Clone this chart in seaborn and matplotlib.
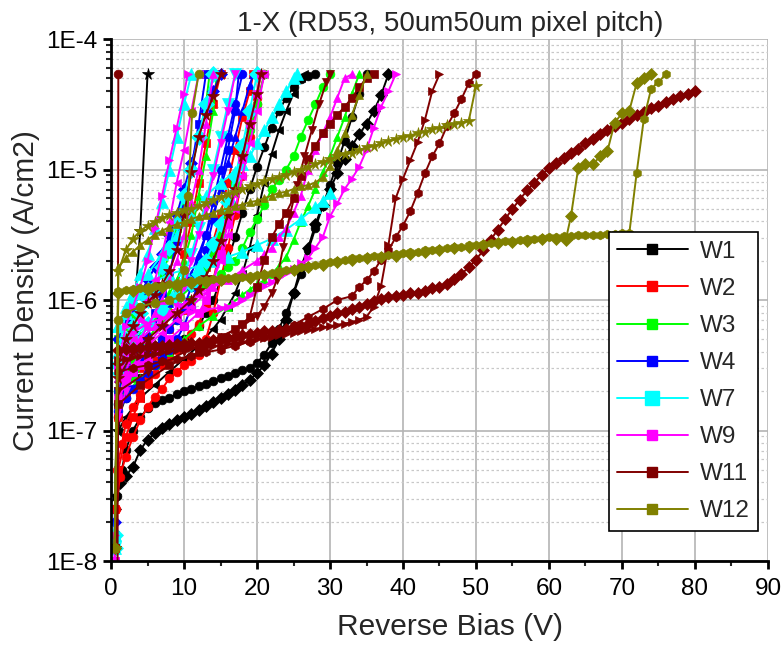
import numpy as np
import seaborn as sns
import matplotlib
matplotlib.use('Agg')
import matplotlib.pyplot as plt
from matplotlib.lines import Line2D
from matplotlib.ticker import LogLocator, MultipleLocator, FixedLocator, NullFormatter

# I-V curves: (reverse bias V, log10 current density A/cm2)
# W1
w1_a = [(0.5, -7.5), (1, -7.0), (2, -6.6), (3, -6.25), (4, -5.47), (5, -4.27)]
w1_b = [(0.6, -7.6), (1.2, -7.4), (2, -7.35), (3, -7.28), (4, -7.15), (5, -7.07), (6, -7.02), (7, -6.98),
        (8, -6.95), (9, -6.92), (10, -6.9), (11, -6.87), (12, -6.84), (13, -6.81), (14, -6.78), (15, -6.75),
        (16, -6.72), (17, -6.69), (18, -6.65), (19, -6.61), (20, -6.56), (21, -6.5), (22, -6.41), (23, -6.3),
        (24, -6.15), (25, -5.95), (26, -5.75), (27, -5.6), (28, -5.42), (29, -5.27), (30, -5.15), (31, -5.03),
        (32, -4.92), (33, -4.82), (34, -4.73), (35, -4.65), (36, -4.55), (37, -4.43), (38, -4.27)]
w1_c = [(0.8, -7.5), (1.5, -7.3), (2, -7.15), (3, -7.0), (4, -6.9), (5, -6.83), (6, -6.79), (7, -6.77),
        (8, -6.75), (9, -6.72), (10, -6.7), (11, -6.68), (12, -6.66), (13, -6.64), (14, -6.62), (15, -6.6),
        (16, -6.58), (17, -6.56), (18, -6.54), (19, -6.52), (20, -6.48), (21, -6.42), (22, -6.33), (23, -6.22),
        (24, -6.1), (25, -5.95), (26, -5.8), (27, -5.62), (28, -5.45), (29, -5.28), (30, -5.12), (31, -4.95),
        (32, -4.78), (33, -4.6), (34, -4.42), (35, -4.27)]
w1_d = [(1, -6.9), (2, -6.75), (4, -6.6), (6, -6.5), (8, -6.4), (10, -6.3), (12, -6.2), (13, -6.1), (14, -6.0),
        (15, -5.85), (16, -5.7), (17, -5.52), (18, -5.33), (19, -5.15), (20, -4.98), (21, -4.83), (22, -4.68),
        (23, -4.55), (24, -4.45), (25, -4.37), (26, -4.31), (27, -4.28), (28, -4.27)]
w1_e = [(1, -7.0), (2, -6.9), (4, -6.75), (6, -6.65), (8, -6.55), (10, -6.45), (12, -6.35), (14, -6.22),
        (15, -6.15), (16, -6.05), (17, -5.95), (18, -5.8), (19, -5.6), (20, -5.35), (21, -5.1), (22, -4.88),
        (23, -4.7), (24, -4.55), (25, -4.42), (26, -4.3), (26.5, -4.27)]

# W2
w2_a = [(0.5, -7.6), (1, -7.3), (2, -7.05), (3, -6.9), (4, -6.75), (5, -6.6), (6, -6.45), (7, -6.3), (8, -6.1),
        (9, -5.9), (10, -5.65), (11, -5.4), (12, -5.1), (13, -4.8), (14, -4.5), (15, -4.27)]
w2_b = [(0.7, -7.6), (1.2, -7.36), (2, -7.2), (3, -7.05), (4, -6.92), (5, -6.82), (6, -6.74), (7, -6.68),
        (8, -6.6), (9, -6.55), (10, -6.5), (11, -6.47), (12, -6.42), (13, -6.3), (14, -6.1), (15, -5.85),
        (16, -5.6), (17, -5.35), (18, -5.05), (19, -4.75), (20, -4.5), (21, -4.27)]
w2_c = [(0.5, -7.8), (1, -6.9), (2, -6.72), (3, -6.6), (4, -6.52), (5, -6.45), (6, -6.38), (7, -6.3), (8, -6.22),
        (9, -6.15), (10, -6.08), (11, -6.0), (12, -5.9), (13, -5.75), (14, -5.55), (15, -5.35), (16, -5.1),
        (17, -4.85), (18, -4.6), (19, -4.4), (19.5, -4.27)]
w2_d = [(0.8, -7.3), (1.5, -7.1), (2, -6.95), (3, -6.82), (4, -6.72), (5, -6.64), (6, -6.57), (7, -6.5),
        (8, -6.44), (9, -6.38), (10, -6.32), (11, -6.26), (12, -6.18), (13, -6.05), (14, -5.85), (15, -5.6),
        (16, -5.4), (17, -5.15), (18, -4.9), (19, -4.65), (20, -4.45), (20.5, -4.27)]

# W3
w3_a = [(0.5, -7.9), (1, -6.6), (2, -6.45), (3, -6.35), (4, -6.27), (5, -6.2), (6, -6.12), (7, -6.05), (8, -5.95),
        (9, -5.85), (10, -5.7), (11, -5.5), (12, -5.2), (13, -4.9), (14, -4.55), (14.5, -4.27)]
w3_b = [(0.5, -7.9), (1, -6.7), (2, -6.55), (3, -6.45), (5, -6.3), (7, -6.15), (9, -6.0), (11, -5.9), (12, -5.82),
        (13, -5.75), (14, -5.65), (15, -5.5), (16, -5.3), (17, -5.1), (18, -4.9), (19, -4.7), (20, -4.5), (21, -4.27)]
w3_c = [(0.6, -7.8), (1, -6.8), (2, -6.7), (3, -6.6), (5, -6.45), (7, -6.3), (9, -6.15), (11, -6.0), (13, -5.88),
        (15, -5.8), (16, -5.75), (17, -5.7), (18, -5.6), (19, -5.48), (20, -5.38), (21, -5.27), (22, -5.15),
        (23, -5.08), (24, -5.0), (25, -4.9), (26, -4.75), (27, -4.62), (28, -4.5), (29, -4.37), (30, -4.27)]
w3_d = [(0.6, -7.8), (1, -6.8), (2, -6.72), (4, -6.6), (6, -6.5), (8, -6.4), (10, -6.3), (12, -6.2), (14, -6.12),
        (16, -6.05), (18, -5.96), (19, -5.92), (20, -5.88), (21, -5.85), (22, -5.8), (23, -5.74), (24, -5.67),
        (25, -5.54), (26, -5.4), (27, -5.28), (28, -5.15), (29, -5.02), (30, -4.9), (31, -4.75), (32, -4.6),
        (33, -4.42), (34, -4.27)]
w3_e = [(0.5, -7.8), (1, -6.3), (2, -6.2), (3, -6.12), (4, -6.05), (5, -5.98), (6, -5.9), (7, -5.8), (8, -5.65),
        (9, -5.45), (10, -5.25), (11, -5.0), (12, -4.75), (13, -4.5), (13.5, -4.27)]

# W4
w4_a = [(0.5, -7.8), (1, -6.7), (2, -6.5), (3, -6.4), (4, -6.3), (5, -6.2), (6, -6.1), (7, -5.95), (8, -5.8),
        (9, -5.55), (10, -5.3), (11, -5.0), (12, -4.65), (13, -4.27)]
w4_b = [(0.5, -8.0), (1, -6.8), (2, -6.65), (3, -6.55), (4, -6.47), (5, -6.4), (6, -6.35), (7, -6.3), (8, -6.22),
        (9, -6.15), (10, -6.05), (11, -5.9), (12, -5.7), (13, -5.5), (14, -5.25), (15, -5.0), (16, -4.75),
        (17, -4.5), (18, -4.27)]
w4_c = [(0.5, -7.9), (1, -6.6), (2, -6.5), (3, -6.4), (4, -6.32), (5, -6.25), (6, -6.18), (7, -6.1), (8, -6.02),
        (9, -5.95), (10, -5.87), (11, -5.8), (12, -5.65), (13, -5.5), (14, -5.35), (15, -5.15), (16, -4.95),
        (17, -4.75), (18, -4.55), (19, -4.35), (19.5, -4.27)]
w4_d = [(0.5, -7.7), (1, -6.3), (2, -6.15), (3, -6.05), (4, -5.95), (5, -5.85), (6, -5.75), (7, -5.65), (8, -5.5),
        (9, -5.35), (10, -5.15), (11, -4.95), (12, -4.75), (13, -4.55), (14, -4.4), (15, -4.27)]
w4_e = [(0.6, -7.9), (1, -6.85), (2, -6.75), (3, -6.68), (4, -6.62), (5, -6.56), (6, -6.5), (7, -6.44), (8, -6.38),
        (9, -6.3), (10, -6.2), (11, -6.05), (12, -5.85), (13, -5.62), (14, -5.38), (15, -5.12), (16, -4.85),
        (17, -4.55), (17.5, -4.27)]

# W7
w7_a = [(0.5, -7.9), (1, -6.4), (2, -6.1), (3, -5.95), (4, -5.8), (5, -5.65), (6, -5.45), (7, -5.25), (8, -5.0),
        (9, -4.75), (10, -4.5), (11, -4.27)]
w7_b = [(0.5, -7.8), (1, -6.5), (2, -6.3), (3, -6.2), (4, -6.1), (5, -6.0), (6, -5.9), (7, -5.75), (8, -5.6),
        (9, -5.4), (10, -5.2), (11, -5.0), (12, -4.75), (13, -4.5), (14, -4.27)]
w7_c = [(0.5, -7.9), (1, -6.6), (2, -6.45), (3, -6.35), (5, -6.2), (7, -6.05), (9, -5.9), (10, -5.8), (11, -5.65),
        (12, -5.45), (13, -5.25), (14, -5.0), (15, -4.75), (16, -4.5), (17, -4.27)]
w7_d = [(0.5, -7.8), (1, -6.2), (2, -6.05), (3, -5.95), (5, -5.8), (7, -5.65), (9, -5.5), (11, -5.35), (13, -5.2),
        (15, -5.1), (17, -5.02), (18, -4.96), (19, -4.9), (20, -4.8), (21, -4.7), (22, -4.6), (23, -4.5),
        (24, -4.4), (25, -4.3), (25.5, -4.27)]
w7_e = [(0.5, -7.8), (1, -6.2), (2, -6.1), (3, -6.0), (4, -5.95), (5, -5.9), (6, -5.86), (8, -5.8), (10, -5.77),
        (12, -5.74), (14, -5.7), (16, -5.67), (18, -5.63), (20, -5.58), (22, -5.53), (24, -5.46), (26, -5.38),
        (28, -5.29), (29, -5.24), (30, -5.18)]
w7_f = [(0.5, -7.9), (1, -6.5), (3, -6.3), (5, -6.18), (7, -6.08), (9, -5.98), (11, -5.88), (12, -5.8), (13, -5.7),
        (14, -5.57), (15, -5.42), (16, -5.25), (17, -5.05), (18, -4.82), (19, -4.55), (20, -4.27)]

# W9
w9_a = [(0.5, -7.8), (1, -6.5), (2, -6.2), (3, -6.05), (4, -5.9), (5, -5.7), (6, -5.45), (7, -5.2), (8, -4.93),
        (9, -4.68), (10, -4.42), (10.5, -4.27)]
w9_b = [(0.5, -7.9), (1, -6.6), (2, -6.4), (3, -6.3), (4, -6.15), (5, -6.0), (6, -5.85), (7, -5.65), (8, -5.4),
        (9, -5.1), (10, -4.85), (11, -4.55), (12, -4.27)]
w9_c = [(0.5, -8.0), (1, -6.8), (2, -6.55), (3, -6.4), (4, -6.3), (5, -6.2), (6, -6.1), (7, -6.0), (8, -5.85),
        (9, -5.7), (10, -5.5), (11, -5.25), (12, -5.0), (13, -4.65), (14, -4.27)]
w9_d = [(0.5, -8.0), (1, -6.9), (2, -6.7), (3, -6.55), (5, -6.35), (7, -6.2), (9, -6.05), (10, -5.9), (11, -5.7),
        (12, -5.5), (13, -5.3), (14, -5.05), (15, -4.8), (16, -4.55), (17, -4.27)]
w9_e = [(0.5, -8.0), (1, -6.8), (2, -6.6), (3, -6.5), (5, -6.35), (7, -6.25), (9, -6.15), (11, -6.05), (13, -5.95),
        (14, -5.85), (15, -5.7), (16, -5.5), (17, -5.3), (18, -5.05), (19, -4.8), (20, -4.55), (21, -4.27)]
w9_f = [(0.6, -7.9), (1, -6.5), (2, -6.35), (3, -6.25), (5, -6.18), (7, -6.14), (9, -6.11), (11, -6.09), (13, -6.07),
        (15, -6.06), (16, -6.05), (17, -6.03), (18, -6.0), (19, -5.96), (20, -5.92), (21, -5.89), (22, -5.86),
        (23, -5.82), (24, -5.79), (25, -5.76), (26, -5.72), (27, -5.68), (28, -5.6), (29, -5.52), (30, -5.36),
        (31, -5.26), (32, -5.15), (33, -5.07), (34, -4.98), (35, -4.85), (36, -4.68), (37, -4.52), (38, -4.4),
        (39, -4.27)]
w9_g = [(0.6, -7.9), (1, -6.6), (2, -6.45), (4, -6.3), (6, -6.2), (8, -6.1), (10, -6.03), (12, -5.95), (14, -5.9),
        (16, -5.85), (18, -5.77), (20, -5.7), (21, -5.65), (22, -5.6), (23, -5.52), (24, -5.45), (25, -5.33),
        (26, -5.2), (27, -5.0), (28, -4.85), (29, -4.72), (30, -4.6), (31, -4.45), (32, -4.3), (33, -4.27)]
w9_h = [(0.5, -7.9), (1, -6.75), (2, -6.62), (3, -6.55), (4, -6.5), (5, -6.45), (6, -6.4), (8, -6.3), (10, -6.2),
        (12, -6.1), (13, -6.0), (14, -5.85), (15, -5.65), (16, -5.42), (17, -5.18), (18, -4.92), (19, -4.65),
        (20, -4.42), (20.5, -4.27)]

# W11
w11_a = [(0.9, -8.05), (1.0, -4.27)]
w11_b = [(0.5, -7.9), (1, -6.5), (2, -6.3), (3, -6.2), (4, -6.1), (5, -6.02), (6, -5.96), (7, -5.88), (8, -5.78),
         (9, -5.62), (10, -5.35), (11, -5.02), (12, -4.75), (13, -4.58), (14, -4.44), (15, -4.27)]
w11_c = [(0.6, -7.9), (1, -6.6), (3, -6.4), (5, -6.3), (7, -6.2), (9, -6.1), (11, -6.0), (12, -5.92), (13, -5.82),
         (14, -5.7), (15, -5.55), (16, -5.35), (17, -5.15), (18, -4.9), (19, -4.65), (20, -4.42), (20.5, -4.27)]
w11_d = [(0.6, -7.9), (1, -6.8), (4, -6.65), (8, -6.5), (12, -6.4), (15, -6.3), (17, -6.22), (18, -6.18), (19, -6.13),
         (20, -5.9), (21, -5.69), (22, -5.52), (23, -5.42), (24, -5.33), (25, -5.22), (26, -5.05), (27, -4.92),
         (28, -4.82), (29, -4.72), (30, -4.65), (31, -4.58), (32, -4.52), (33, -4.45), (34, -4.37), (35, -4.3),
         (36, -4.27)]
w11_e = [(0.6, -7.9), (1, -6.7), (5, -6.55), (10, -6.4), (15, -6.28), (18, -6.2), (20, -6.12), (21, -6.05),
         (22, -5.95), (22.7, -5.85), (23.6, -5.59), (24.5, -5.35), (25.5, -5.12), (26.5, -4.9), (27.5, -4.7),
         (28.5, -4.5), (29.5, -4.33), (30, -4.27)]
w11_f = [(0.5, -7.9), (1, -6.38), (2, -6.375), (3, -6.37), (4, -6.365), (5, -6.36), (6, -6.355), (7, -6.35),
         (8, -6.345), (9, -6.34), (10, -6.335), (11, -6.33), (12, -6.33), (13, -6.32), (14, -6.31), (15, -6.3),
         (16, -6.29), (17, -6.28), (18, -6.27), (19, -6.26), (20, -6.25), (21, -6.24), (22, -6.235), (23, -6.23),
         (24, -6.22), (25, -6.21), (26, -6.2), (27, -6.18), (28, -6.16), (29, -6.14), (30, -6.12), (31, -6.1),
         (32, -6.09), (33, -6.07), (34, -6.05), (35, -6.03), (36, -6.01), (37, -5.99), (38, -5.98), (39, -5.97),
         (40, -5.96), (41, -5.95), (42, -5.945), (43, -5.93), (44, -5.91), (45, -5.9), (46, -5.88), (47, -5.84),
         (48, -5.8), (49, -5.75), (50, -5.69), (51, -5.62), (52, -5.54), (53, -5.46), (54, -5.38), (55, -5.3),
         (56, -5.23), (57, -5.16), (58, -5.1), (59, -5.04), (60, -4.99), (61, -4.95), (62, -4.91), (63, -4.87),
         (64, -4.84), (65, -4.8), (66, -4.77), (67, -4.73), (68, -4.7), (69, -4.67), (70, -4.64), (71, -4.61),
         (72, -4.58), (73, -4.56), (74, -4.53), (75, -4.51), (76, -4.48), (77, -4.46), (78, -4.44), (79, -4.42),
         (80, -4.40)]
w11_g = [(0.5, -7.9), (1, -6.46), (2, -6.45), (3, -6.44), (4, -6.43), (5, -6.42), (6, -6.41), (7, -6.4), (8, -6.39),
         (9, -6.38), (10, -6.37), (11, -6.37), (12, -6.36), (13, -6.36), (14, -6.35), (15, -6.35), (16, -6.34),
         (17, -6.33), (18, -6.32), (19, -6.31), (20, -6.3), (21, -6.29), (22, -6.28), (23, -6.27), (24, -6.26),
         (25, -6.25), (26, -6.24), (27, -6.23), (28, -6.22), (29, -6.21), (30, -6.2), (31, -6.19), (32, -6.18),
         (33, -6.17), (34, -6.15), (35, -6.13), (36, -6.05), (37, -5.89), (38, -5.58), (39, -5.22), (40, -5.07),
         (41, -4.93), (42, -4.79), (43, -4.62), (44, -4.4), (45, -4.27)]
w11_h = [(0.5, -7.9), (1, -6.55), (3, -6.52), (5, -6.5), (7, -6.47), (9, -6.45), (11, -6.43), (13, -6.4),
         (15, -6.38), (17, -6.35), (19, -6.32), (21, -6.28), (23, -6.24), (25, -6.19), (27, -6.13), (29, -6.07),
         (31, -6.0), (33, -5.97), (34, -5.9), (35, -5.85), (36, -5.78), (37, -5.69), (38, -5.62), (39, -5.52),
         (40, -5.43), (41, -5.32), (42, -5.18), (43, -5.03), (44, -4.9), (45, -4.8), (46, -4.67), (47, -4.57),
         (48, -4.46), (49, -4.34), (50, -4.27)]

# W12
w12_a = [(0.5, -7.9), (1, -6.15), (2, -6.1), (4, -6.05), (6, -6.02), (8, -6.0), (9.5, -5.98), (10, -5.77),
         (10.6, -5.2), (11.1, -4.57), (12, -4.27)]
w12_b = [(0.5, -7.9), (1, -5.78), (2, -5.62), (3, -5.53), (4, -5.47), (5, -5.43), (6, -5.4), (7, -5.37), (8, -5.35),
         (9, -5.33), (10, -5.31), (11, -5.3), (12, -5.28), (13, -5.26), (14, -5.23), (15, -5.21), (16, -5.19),
         (17, -5.17), (18, -5.15), (19, -5.13), (20, -5.11), (21, -5.09), (22, -5.07), (23, -5.06), (24, -5.04),
         (25, -5.02), (26, -5.0), (27, -4.98), (28, -4.96), (29, -4.94), (30, -4.92), (31, -4.9), (32, -4.88),
         (33, -4.87), (34, -4.85), (35, -4.83), (36, -4.82), (37, -4.8), (38, -4.78), (39, -4.77), (40, -4.75),
         (41, -4.74), (42, -4.72), (43, -4.71), (44, -4.69), (45, -4.68), (46, -4.66), (47, -4.65), (48, -4.64),
         (49, -4.63), (50, -4.36)]
w12_c = [(0.5, -7.9), (1, -5.75), (2, -5.68), (3, -5.63), (4, -5.58), (5, -5.54), (6, -5.5), (7, -5.47), (8, -5.44),
         (9, -5.42), (10, -5.4), (11, -5.38), (12, -5.36), (13, -5.35), (14, -5.33), (15, -5.31), (16, -5.3),
         (17, -5.28), (18, -5.27), (19, -5.25), (20, -5.24), (21, -5.22), (22, -5.2), (23, -5.18), (24, -5.17),
         (25, -5.15), (26, -5.13), (27, -5.12), (28, -5.1), (29, -5.06), (30, -4.97), (31, -4.85), (32, -4.72),
         (33, -4.58), (34, -4.43), (35, -4.27)]
w12_d = [(0.5, -7.9), (1, -5.93), (2, -5.92), (3, -5.915), (4, -5.91), (5, -5.9), (6, -5.895), (7, -5.89), (8, -5.88),
         (9, -5.87), (10, -5.86), (11, -5.855), (12, -5.85), (13, -5.845), (14, -5.84), (15, -5.835), (16, -5.83),
         (17, -5.825), (18, -5.82), (19, -5.815), (20, -5.81), (21, -5.8), (22, -5.79), (23, -5.78), (24, -5.77),
         (25, -5.76), (26, -5.75), (27, -5.74), (28, -5.73), (29, -5.72), (30, -5.71), (31, -5.7), (32, -5.69),
         (33, -5.68), (34, -5.675), (35, -5.67), (36, -5.665), (37, -5.66), (38, -5.655), (39, -5.65), (40, -5.64),
         (41, -5.635), (42, -5.63), (43, -5.62), (44, -5.615), (45, -5.61), (46, -5.6), (47, -5.595), (48, -5.59),
         (49, -5.58), (50, -5.575), (51, -5.57), (52, -5.56), (53, -5.555), (54, -5.55), (55, -5.545), (56, -5.54),
         (57, -5.535), (58, -5.53), (59, -5.525), (60, -5.52), (61, -5.515), (62, -5.51), (63, -5.51), (64, -5.505),
         (65, -5.505), (66, -5.5), (67, -5.5), (68, -5.495), (69, -5.495), (70, -5.49), (71, -5.49), (72, -5.03),
         (73, -4.61), (74, -4.38), (75, -4.33), (76, -4.27)]
w12_e = [(0.5, -7.9), (1, -5.95), (3, -5.93), (5, -5.92), (7, -5.9), (9, -5.89), (11, -5.87), (13, -5.86),
         (15, -5.85), (17, -5.84), (19, -5.83), (21, -5.81), (23, -5.79), (25, -5.77), (27, -5.75), (29, -5.73),
         (31, -5.71), (33, -5.69), (35, -5.68), (37, -5.67), (39, -5.66), (41, -5.645), (43, -5.63), (45, -5.62),
         (47, -5.605), (49, -5.59), (51, -5.58), (53, -5.565), (55, -5.555), (57, -5.545), (59, -5.535),
         (61, -5.53), (62.3, -5.54), (63, -5.36), (64, -4.99), (65, -4.96), (66, -4.96), (67, -4.9), (68, -4.86),
         (69, -4.64), (70, -4.57), (71, -4.55), (72, -4.34), (73, -4.3), (74, -4.27)]

wafers = ['W1', 'W2', 'W3', 'W4', 'W7', 'W9', 'W11', 'W12']
colors = ['#000000', '#ff0000', '#00ff00', '#0000ff', '#00ffff', '#ff00ff', '#800000', '#808000']
curves = [
    [w1_a, w1_b, w1_c, w1_d, w1_e],
    [w2_a, w2_b, w2_c, w2_d],
    [w3_a, w3_b, w3_c, w3_d, w3_e],
    [w4_a, w4_b, w4_c, w4_d, w4_e],
    [w7_a, w7_b, w7_c, w7_d, w7_e, w7_f],
    [w9_a, w9_b, w9_c, w9_d, w9_e, w9_f, w9_g, w9_h],
    [w11_a, w11_b, w11_c, w11_d, w11_e, w11_f, w11_g, w11_h],
    [w12_a, w12_b, w12_c, w12_d, w12_e],
]
markers = [
    ['*', 'D', 'o', 'o', '<'],
    ['s', 'o', 's', 'o'],
    ['^', 'o', 'o', '^', 's'],
    ['s', 'o', '^', 'D', 'o'],
    ['^', 'D', 'v', '^', '^', 'D'],
    ['>', '<', '^', 'v', '<', '>', '^', 's'],
    ['o', '*', '*', 's', 'v', 'D', '>', 'h'],
    ['o', '*', '^', 'h', 'D'],
]

sns.set_style('ticks')
plt.rcParams['font.family'] = ['Liberation Sans', 'DejaVu Sans']

fig = plt.figure(figsize=(7.83, 6.47), dpi=100)
ax = fig.add_axes([0.1418, 0.1329, 0.839, 0.8068])

for w, col, group, mks in zip(wafers, colors, curves, markers):
    for pts, mk in zip(group, mks):
        v = [p[0] for p in pts]
        j = [10 ** p[1] for p in pts]
        ms = 8 if w == 'W7' else (8.5 if mk == '*' else 6.3)
        sns.lineplot(x=v, y=j, ax=ax, color=col, marker=mk, markersize=ms,
                     markeredgecolor=col, markeredgewidth=0.5, linewidth=1.4,
                     sort=False, estimator=None, legend=False)

ax.set_yscale('log')
ax.set_xlim(0, 90)
ax.set_ylim(1e-8, 1e-4)
ax.xaxis.set_major_locator(MultipleLocator(10))
ax.xaxis.set_minor_locator(MultipleLocator(5))
ax.yaxis.set_major_locator(FixedLocator([1e-8, 1e-7, 1e-6, 1e-5, 1e-4]))
ax.yaxis.set_minor_locator(LogLocator(base=10, subs=np.arange(2, 10), numticks=20))
ax.yaxis.set_minor_formatter(NullFormatter())
ax.set_yticklabels(['1E-8', '1E-7', '1E-6', '1E-5', '1E-4'])

ax.grid(True, which='major', color='#b4b4b4', linewidth=1.2)
ax.grid(True, which='minor', axis='y', color='#c8c8c8', linewidth=0.9, linestyle=(0, (2, 2)))
ax.xaxis.grid(False, which='minor')
ax.set_axisbelow(True)

for s in ['top', 'right']:
    ax.spines[s].set_visible(False)
for s in ['left', 'bottom']:
    ax.spines[s].set_linewidth(2)
    ax.spines[s].set_color('black')
ax.tick_params(which='major', direction='out', length=6, width=2, labelsize=17.5, colors='black', pad=4)
ax.tick_params(which='minor', direction='out', length=3.5, width=1.5)
ax.tick_params(axis='x', which='major', pad=6)

ax.set_xlabel('Reverse Bias (V)', fontsize=21.5, labelpad=10)
ax.set_ylabel('Current Density (A/cm2)', fontsize=21.5, labelpad=4)
ax.xaxis.set_label_coords(0.516, -0.1)
ax.yaxis.label.set_y(0.519)
ax.set_title('1-X (RD53, 50um50um pixel pitch)', fontsize=20, pad=6, x=0.516)

handles = [Line2D([0], [0], color=c, marker='s', markersize=(10 if w == 'W7' else 7), linewidth=1.4)
           for w, c in zip(wafers, colors)]
leg = ax.legend(handles, wafers, loc='lower right', bbox_to_anchor=(0.985, 0.0575), borderaxespad=0,
                fontsize=17.5, handlelength=2.9, handletextpad=0.5, labelspacing=0.62, borderpad=0.35,
                fancybox=False, framealpha=1, edgecolor='black')
leg.get_frame().set_linewidth(1.2)

fig.savefig('out.png', dpi=100)
